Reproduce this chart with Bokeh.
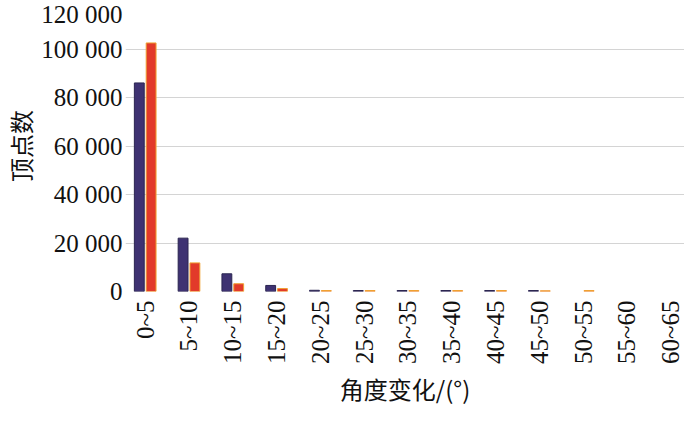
import math
from bokeh.plotting import figure
from bokeh.models import ColumnDataSource, FixedTicker, Range1d
from bokeh.transform import dodge
from bokeh.embed import file_html
from bokeh.resources import INLINE

categories = ["0~5", "5~10", "10~15", "15~20", "20~25", "25~30", "30~35",
              "35~40", "40~45", "45~50", "50~55", "55~60", "60~65"]
series_a = [86000, 22000, 7300, 2500, 500, 400, 400, 400, 400, 400, 0, 0, 0]
series_b = [102500, 11800, 3200, 1200, 400, 400, 400, 400, 400, 300, 400, 0, 0]
y_ticks = [0, 20000, 40000, 60000, 80000, 100000, 120000]
y_tick_labels = ["0", "20 000", "40 000", "60 000", "80 000", "100 000", "120 000"]
x_title = "角度变化/(°)"
y_title = "顶点数"

idx = list(range(len(categories)))
src = ColumnDataSource(dict(
    x=idx, a=series_a, b=series_b,
    la=[1.0 if v > 0 else 0.0 for v in series_a],
    lb=[1.0 if v > 0 else 0.0 for v in series_b],
))

SERIF = "Liberation Serif"

p = figure(width=684, height=409, output_backend="svg", toolbar_location=None,
           x_range=Range1d(-0.45, 12.315), y_range=Range1d(0, 120000),
           min_border_left=115, min_border_top=0, min_border_right=0,
           min_border_bottom=116)

p.vbar(x=dodge('x', -0.135), top='a', width=0.225, source=src,
       fill_color="#3e3272", line_color="#2a2550", line_alpha='la', line_width=1)
p.vbar(x=dodge('x', 0.135), top='b', width=0.225, source=src,
       fill_color="#e23a2a", line_color="#f0a030", line_alpha='lb', line_width=1)

p.outline_line_color = None
p.xgrid.grid_line_color = None
p.ygrid.grid_line_color = "#d4d4d4"
p.ygrid.grid_line_width = 1

xax = p.xaxis[0]
yax = p.yaxis[0]
xax.ticker = FixedTicker(ticks=idx)
xax.major_label_overrides = {i: c for i, c in zip(idx, categories)}
xax.major_label_orientation = math.pi / 2
xax.major_label_standoff = 9
yax.ticker = FixedTicker(ticks=y_ticks)
yax.major_label_overrides = {t: l for t, l in zip(y_ticks, y_tick_labels)}
yax.major_label_standoff = 3

for ax in (xax, yax):
    ax.axis_line_color = None
    ax.major_tick_line_color = None
    ax.minor_tick_line_color = None
    ax.major_tick_in = 0
    ax.major_tick_out = 0
    ax.major_label_text_font = SERIF
    ax.major_label_text_font_size = "25px"
    ax.major_label_text_color = "#111111"
    ax.axis_label_text_font = "Noto Sans CJK SC"
    ax.axis_label_text_font_size = "24px"
    ax.axis_label_text_font_style = "normal"
    ax.axis_label_text_color = "#111111"

xax.axis_label = x_title
yax.axis_label = y_title
xax.axis_label_standoff = 4
yax.axis_label_standoff = 0

open("out.html", "w").write(file_html(p, INLINE))
